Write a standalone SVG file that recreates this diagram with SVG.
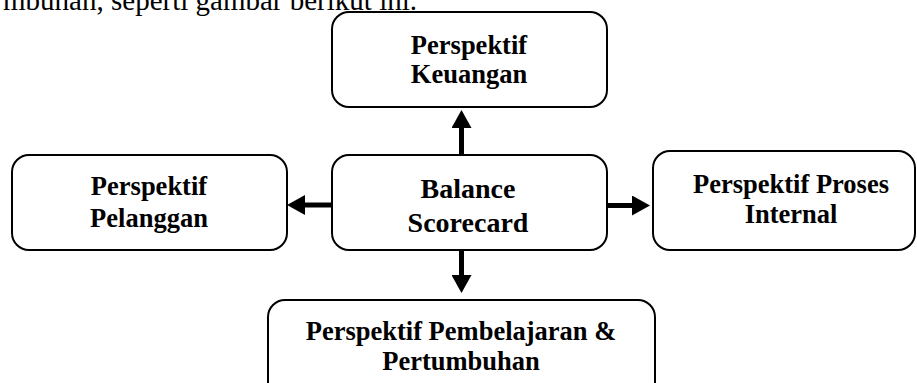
<svg xmlns="http://www.w3.org/2000/svg" width="917" height="383" viewBox="0 0 917 383">
<style>
.box{fill:#fff;stroke:#000;stroke-width:2}
.t{font-family:"Liberation Serif","Times New Roman",serif;font-weight:bold;font-size:26.5px;fill:#000;text-anchor:middle}
.big{font-size:28px}
.body{font-family:"Liberation Serif","Times New Roman",serif;font-size:29px;fill:#000}
.c{stroke:#000;stroke-width:5;fill:none}
</style>
<defs>
<marker id="ah" markerUnits="userSpaceOnUse" markerWidth="18" markerHeight="20" refX="0" refY="10" orient="auto" viewBox="0 0 18 20">
<path d="M0,0 L18,10 L0,20 z" fill="#000"/>
</marker>
</defs>
<text class="body" x="417" y="10" text-anchor="end">mbuhan, seperti gambar berikut ini.</text>
<g id="connectors">
<line class="c" x1="461.5" y1="155" x2="461.5" y2="128" marker-end="url(#ah)"/>
<line class="c" x1="332" y1="205" x2="305" y2="205" marker-end="url(#ah)"/>
<line class="c" x1="607" y1="205.5" x2="632" y2="205.5" marker-end="url(#ah)"/>
<line class="c" x1="461.5" y1="250" x2="461.5" y2="275" marker-end="url(#ah)"/>
</g>
<g id="keuangan">
<rect class="box" x="332" y="12" width="275" height="95" rx="17"/>
<text class="t" x="469" y="54">Perspektif</text>
<text class="t" x="469" y="83">Keuangan</text>
</g>
<g id="balance">
<rect class="box" x="332" y="155" width="275" height="95" rx="17"/>
<text class="t big" x="468" y="197.5">Balance</text>
<text class="t big" x="468" y="232">Scorecard</text>
</g>
<g id="pelanggan">
<rect class="box" x="12" y="155" width="275" height="95" rx="17"/>
<text class="t" x="149" y="195">Perspektif</text>
<text class="t" x="149" y="227">Pelanggan</text>
</g>
<g id="proses">
<rect class="box" x="653" y="151" width="262" height="99" rx="17"/>
<text class="t" x="791" y="193">Perspektif Proses</text>
<text class="t" x="791" y="223">Internal</text>
</g>
<g id="pembelajaran">
<rect class="box" x="268" y="300" width="387" height="100" rx="17"/>
<text class="t" x="461" y="340">Perspektif Pembelajaran &amp;</text>
<text class="t" x="461" y="370">Pertumbuhan</text>
</g>
</svg>
